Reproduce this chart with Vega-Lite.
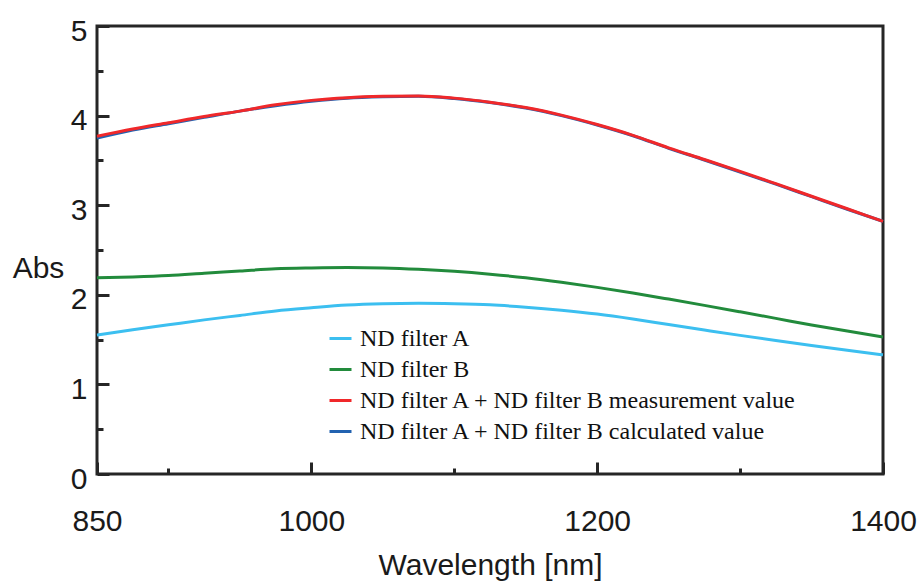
{
  "$schema": "https://vega.github.io/schema/vega-lite/v6.json",
  "width": 786,
  "height": 448,
  "autosize": {"type": "none"},
  "padding": {"left": 97, "top": 26, "right": 37, "bottom": 108},
  "background": "white",
  "config": {
    "view": {"stroke": "#262626", "strokeWidth": 3},
    "axis": {
      "grid": false,
      "domain": false,
      "tickColor": "#262626",
      "tickWidth": 3,
      "labelFont": "Liberation Sans",
      "labelFontSize": 30,
      "labelColor": "#1a1a1a",
      "titleFont": "Liberation Sans",
      "titleFontSize": 30,
      "titleFontWeight": "normal",
      "titleColor": "#1a1a1a",
      "labelFlush": false,
      "labelOverlap": false
    }
  },
  "data": {
    "values": [
      {"wl": 850, "a": 1.55, "b": 2.19, "calc": 3.75, "meas": 3.77},
      {"wl": 875, "a": 1.61, "b": 2.2, "calc": 3.84, "meas": 3.85},
      {"wl": 900, "a": 1.665, "b": 2.215, "calc": 3.91, "meas": 3.92},
      {"wl": 925, "a": 1.72, "b": 2.24, "calc": 3.98, "meas": 3.99},
      {"wl": 950, "a": 1.77, "b": 2.265, "calc": 4.05, "meas": 4.05},
      {"wl": 975, "a": 1.82, "b": 2.29, "calc": 4.11, "meas": 4.12},
      {"wl": 1000, "a": 1.855, "b": 2.3, "calc": 4.16, "meas": 4.17},
      {"wl": 1025, "a": 1.885, "b": 2.305, "calc": 4.195, "meas": 4.2},
      {"wl": 1050, "a": 1.9, "b": 2.3, "calc": 4.21, "meas": 4.215},
      {"wl": 1075, "a": 1.905, "b": 2.285, "calc": 4.215, "meas": 4.22},
      {"wl": 1100, "a": 1.9, "b": 2.262, "calc": 4.19, "meas": 4.195},
      {"wl": 1125, "a": 1.888, "b": 2.23, "calc": 4.145, "meas": 4.15},
      {"wl": 1150, "a": 1.862, "b": 2.19, "calc": 4.085, "meas": 4.09},
      {"wl": 1175, "a": 1.828, "b": 2.14, "calc": 4.0, "meas": 4.005},
      {"wl": 1200, "a": 1.785, "b": 2.083, "calc": 3.895, "meas": 3.9},
      {"wl": 1225, "a": 1.73, "b": 2.02, "calc": 3.775, "meas": 3.78},
      {"wl": 1250, "a": 1.668, "b": 1.952, "calc": 3.635, "meas": 3.64},
      {"wl": 1275, "a": 1.607, "b": 1.882, "calc": 3.505, "meas": 3.51},
      {"wl": 1300, "a": 1.547, "b": 1.81, "calc": 3.37, "meas": 3.378},
      {"wl": 1325, "a": 1.49, "b": 1.737, "calc": 3.235, "meas": 3.24},
      {"wl": 1350, "a": 1.435, "b": 1.663, "calc": 3.095, "meas": 3.1},
      {"wl": 1375, "a": 1.382, "b": 1.595, "calc": 2.955, "meas": 2.96},
      {"wl": 1400, "a": 1.33, "b": 1.53, "calc": 2.82, "meas": 2.82}
    ]
  },
  "transform": [
    {"fold": ["a", "b", "calc", "meas"], "as": ["series", "abs"]}
  ],
  "resolve": {"axis": {"x": "independent", "y": "independent"}},
  "layer": [
    {
      "mark": {"type": "line", "strokeWidth": 3, "interpolate": "monotone"},
      "encoding": {
        "x": {
          "field": "wl",
          "type": "quantitative",
          "scale": {"domain": [850, 1400], "nice": false, "zero": false},
          "axis": {
            "orient": "bottom",
            "values": [850, 1000, 1200, 1400],
            "format": "d",
            "tickSize": -12,
            "labelPadding": 68,
            "labelBaseline": "alphabetic",
            "title": "Wavelength [nm]",
            "titleY": 100,
            "titleBaseline": "alphabetic"
          }
        },
        "y": {
          "field": "abs",
          "type": "quantitative",
          "scale": {"domain": [0, 5], "nice": false},
          "axis": {
            "orient": "left",
            "values": [0, 1, 2, 3, 4, 5],
            "format": "d",
            "tickSize": -12,
            "labelPadding": 22,
            "labelBaseline": "middle",
            "labelOffset": 5,
            "title": "Abs",
            "titleAngle": 0,
            "titleX": -59,
            "titleY": 242,
            "titleAlign": "center",
            "titleBaseline": "middle"
          }
        },
        "color": {
          "field": "series",
          "type": "nominal",
          "scale": {
            "domain": ["a", "b", "meas", "calc"],
            "range": ["#3cbff0", "#228b3c", "#f0282a", "#2262b0"]
          },
          "legend": {
            "orient": "none",
            "legendX": 231,
            "legendY": 300,
            "title": null,
            "padding": 0,
            "symbolType": "stroke",
            "symbolSize": 484,
            "symbolStrokeWidth": 3,
            "labelFont": "Liberation Serif",
            "labelFontSize": 24,
            "labelColor": "#111111",
            "labelLimit": 700,
            "labelOffset": 7,
            "rowPadding": 6,
            "labelExpr": "datum.value == 'a' ? 'ND filter A' : datum.value == 'b' ? 'ND filter B' : datum.value == 'meas' ? 'ND filter A + ND filter B measurement value' : 'ND filter A + ND filter B calculated value'"
          }
        }
      }
    },
    {
      "mark": {"type": "line", "opacity": 0},
      "encoding": {
        "x": {
          "field": "wl",
          "type": "quantitative",
          "axis": {
            "orient": "bottom",
            "values": [900, 1100, 1300],
            "tickSize": -6,
            "labels": false,
            "title": null
          }
        },
        "y": {
          "field": "abs",
          "type": "quantitative",
          "axis": {
            "orient": "left",
            "values": [0.5, 1.5, 2.5, 3.5, 4.5],
            "tickSize": -6,
            "labels": false,
            "title": null
          }
        },
        "detail": {"field": "series"}
      }
    }
  ]
}
